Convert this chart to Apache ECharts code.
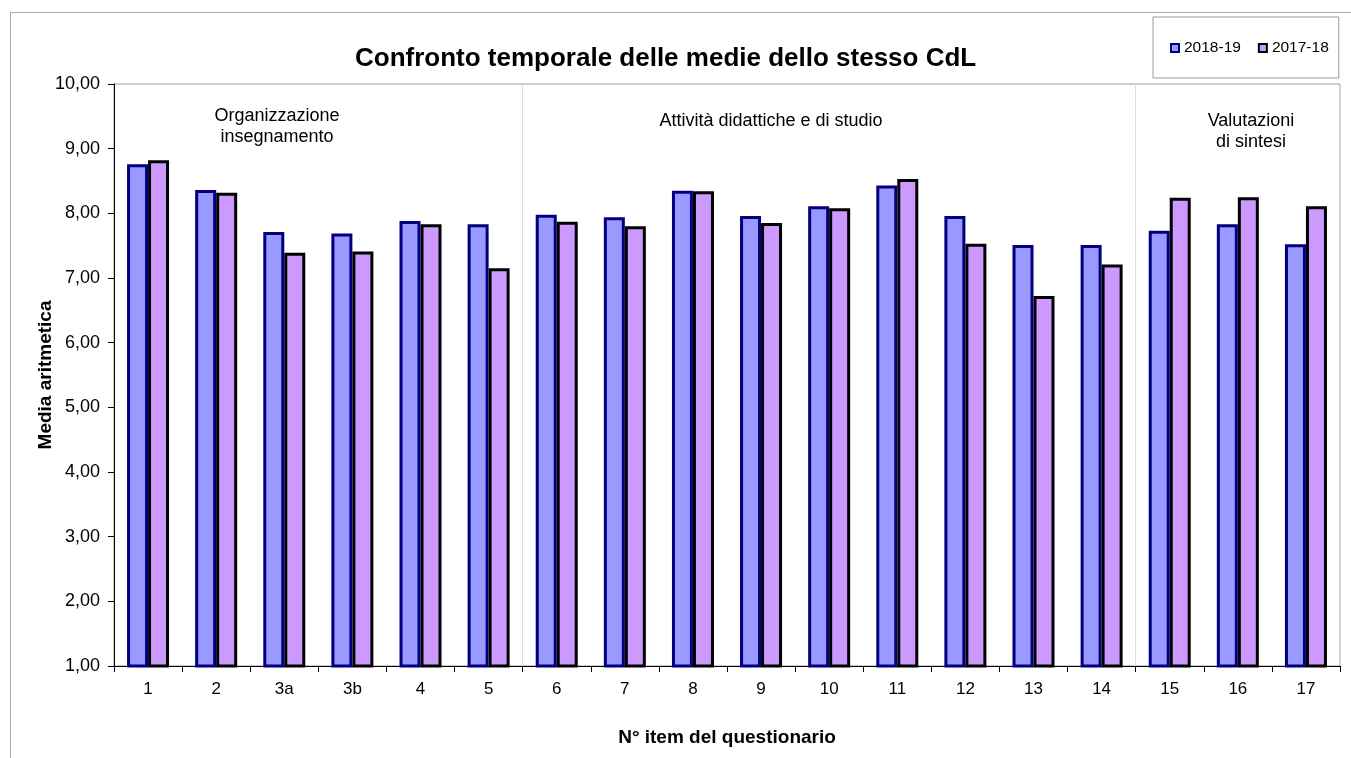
<!DOCTYPE html>
<html>
<head>
<meta charset="utf-8">
<script src="https://cdn.jsdelivr.net/npm/echarts@6/dist/echarts.min.js"></script>
<style>
html,body{margin:0;padding:0;background:#fff;}
#chart{width:1351px;height:758px;}
</style>
</head>
<body>
<div id="chart"></div>
<script>
const categories = ['1','2','3a','3b','4','5','6','7','8','9','10','11','12','13','14','15','16','17'];
const values2018 = [8.76,8.36,7.71,7.69,7.88,7.83,7.98,7.94,8.35,7.96,8.11,8.43,7.96,7.51,7.51,7.73,7.83,7.52];
const values2017 = [8.82,8.32,7.39,7.41,7.83,7.15,7.87,7.80,8.34,7.85,8.08,8.53,7.53,6.72,7.21,8.24,8.25,8.11];
const seriesNames = ['2018-19','2017-18'];
const sectionBoundaries = [6, 15];
const FONT = '"Liberation Sans", Arial, sans-serif';

const chart = echarts.init(document.getElementById('chart'), null, {renderer:'canvas'});
chart.setOption({
  animation: false,
  backgroundColor: '#ffffff',
  textStyle: {fontFamily: FONT},
  title: {
    text: 'Confronto temporale delle medie dello stesso CdL',
    left: 350, top: 41,
    textStyle: {fontFamily: FONT, fontSize: 26, fontWeight: 'bold', color: '#000'}
  },
  legend: {
    data: seriesNames,
    left: 1153, top: 17,
    padding: [23, 10, 22, 17],
    itemGap: 17, itemWidth: 8, itemHeight: 8,
    icon: 'rect',
    borderColor: '#999', borderWidth: 1, backgroundColor: '#fff',
    itemStyle: {borderWidth: 2},
    textStyle: {fontFamily: FONT, fontSize: 15.5, color: '#000'}
  },
  grid: {left: 114, right: 11, top: 84, bottom: 92, show: true, borderColor: '#999', borderWidth: 1, containLabel: false},
  xAxis: {
    type: 'category', data: categories, boundaryGap: true,
    name: 'N° item del questionario', nameLocation: 'middle', nameGap: 62,
    nameMoveOverlap: false,
    nameTextStyle: {fontFamily: FONT, fontSize: 19, fontWeight: 'bold', color: '#000'},
    axisLine: {lineStyle: {color: '#000', width: 1}},
    axisTick: {show: true, length: 6, lineStyle: {color: '#000'}},
    axisLabel: {fontFamily: FONT, fontSize: 17, color: '#000', margin: 15},
    splitLine: {show: true, interval: (i) => sectionBoundaries.indexOf(i) >= 0, lineStyle: {color: '#dddddd', width: 1}}
  },
  yAxis: {
    type: 'value', min: 1, max: 10, interval: 1,
    name: 'Media aritmetica', nameLocation: 'middle', nameGap: 59,
    nameMoveOverlap: false,
    nameTextStyle: {fontFamily: FONT, fontSize: 19, fontWeight: 'bold', color: '#000'},
    axisLine: {show: true, lineStyle: {color: '#000', width: 1}},
    axisTick: {show: true, length: 6, lineStyle: {color: '#000'}},
    axisLabel: {fontFamily: FONT, fontSize: 18, color: '#000', margin: 14,
      formatter: v => v.toFixed(2).replace('.', ',')},
    splitLine: {show: false}
  },
  series: [
    {name: seriesNames[0], type: 'bar', data: values2018, barWidth: 21, barGap: '0%',
     itemStyle: {color: '#9999FF', borderColor: '#000080', borderWidth: 3}},
    {name: seriesNames[1], type: 'bar', data: values2017, barWidth: 21, barGap: '0%',
     itemStyle: {color: '#CC99FF', borderColor: '#000000', borderWidth: 3}}
  ],
  graphic: [
    {type: 'rect', left: 8, top: 10, shape: {width: 1400, height: 800}, silent: true, z: -10,
     style: {fill: 'none', stroke: '#aaaaaa', lineWidth: 1}},
    {type: 'text', x: 277, y: 126.5, style: {text: 'Organizzazione\ninsegnamento', font: '18px ' + FONT, fill: '#000', textAlign: 'center', textVerticalAlign: 'middle', lineHeight: 21}},
    {type: 'text', x: 771, y: 121, style: {text: 'Attività didattiche e di studio', font: '18px ' + FONT, fill: '#000', textAlign: 'center', textVerticalAlign: 'middle'}},
    {type: 'text', x: 1251, y: 131.5, style: {text: 'Valutazioni\ndi sintesi', font: '18px ' + FONT, fill: '#000', textAlign: 'center', textVerticalAlign: 'middle', lineHeight: 21}}
  ]
});
</script>
</body>
</html>
